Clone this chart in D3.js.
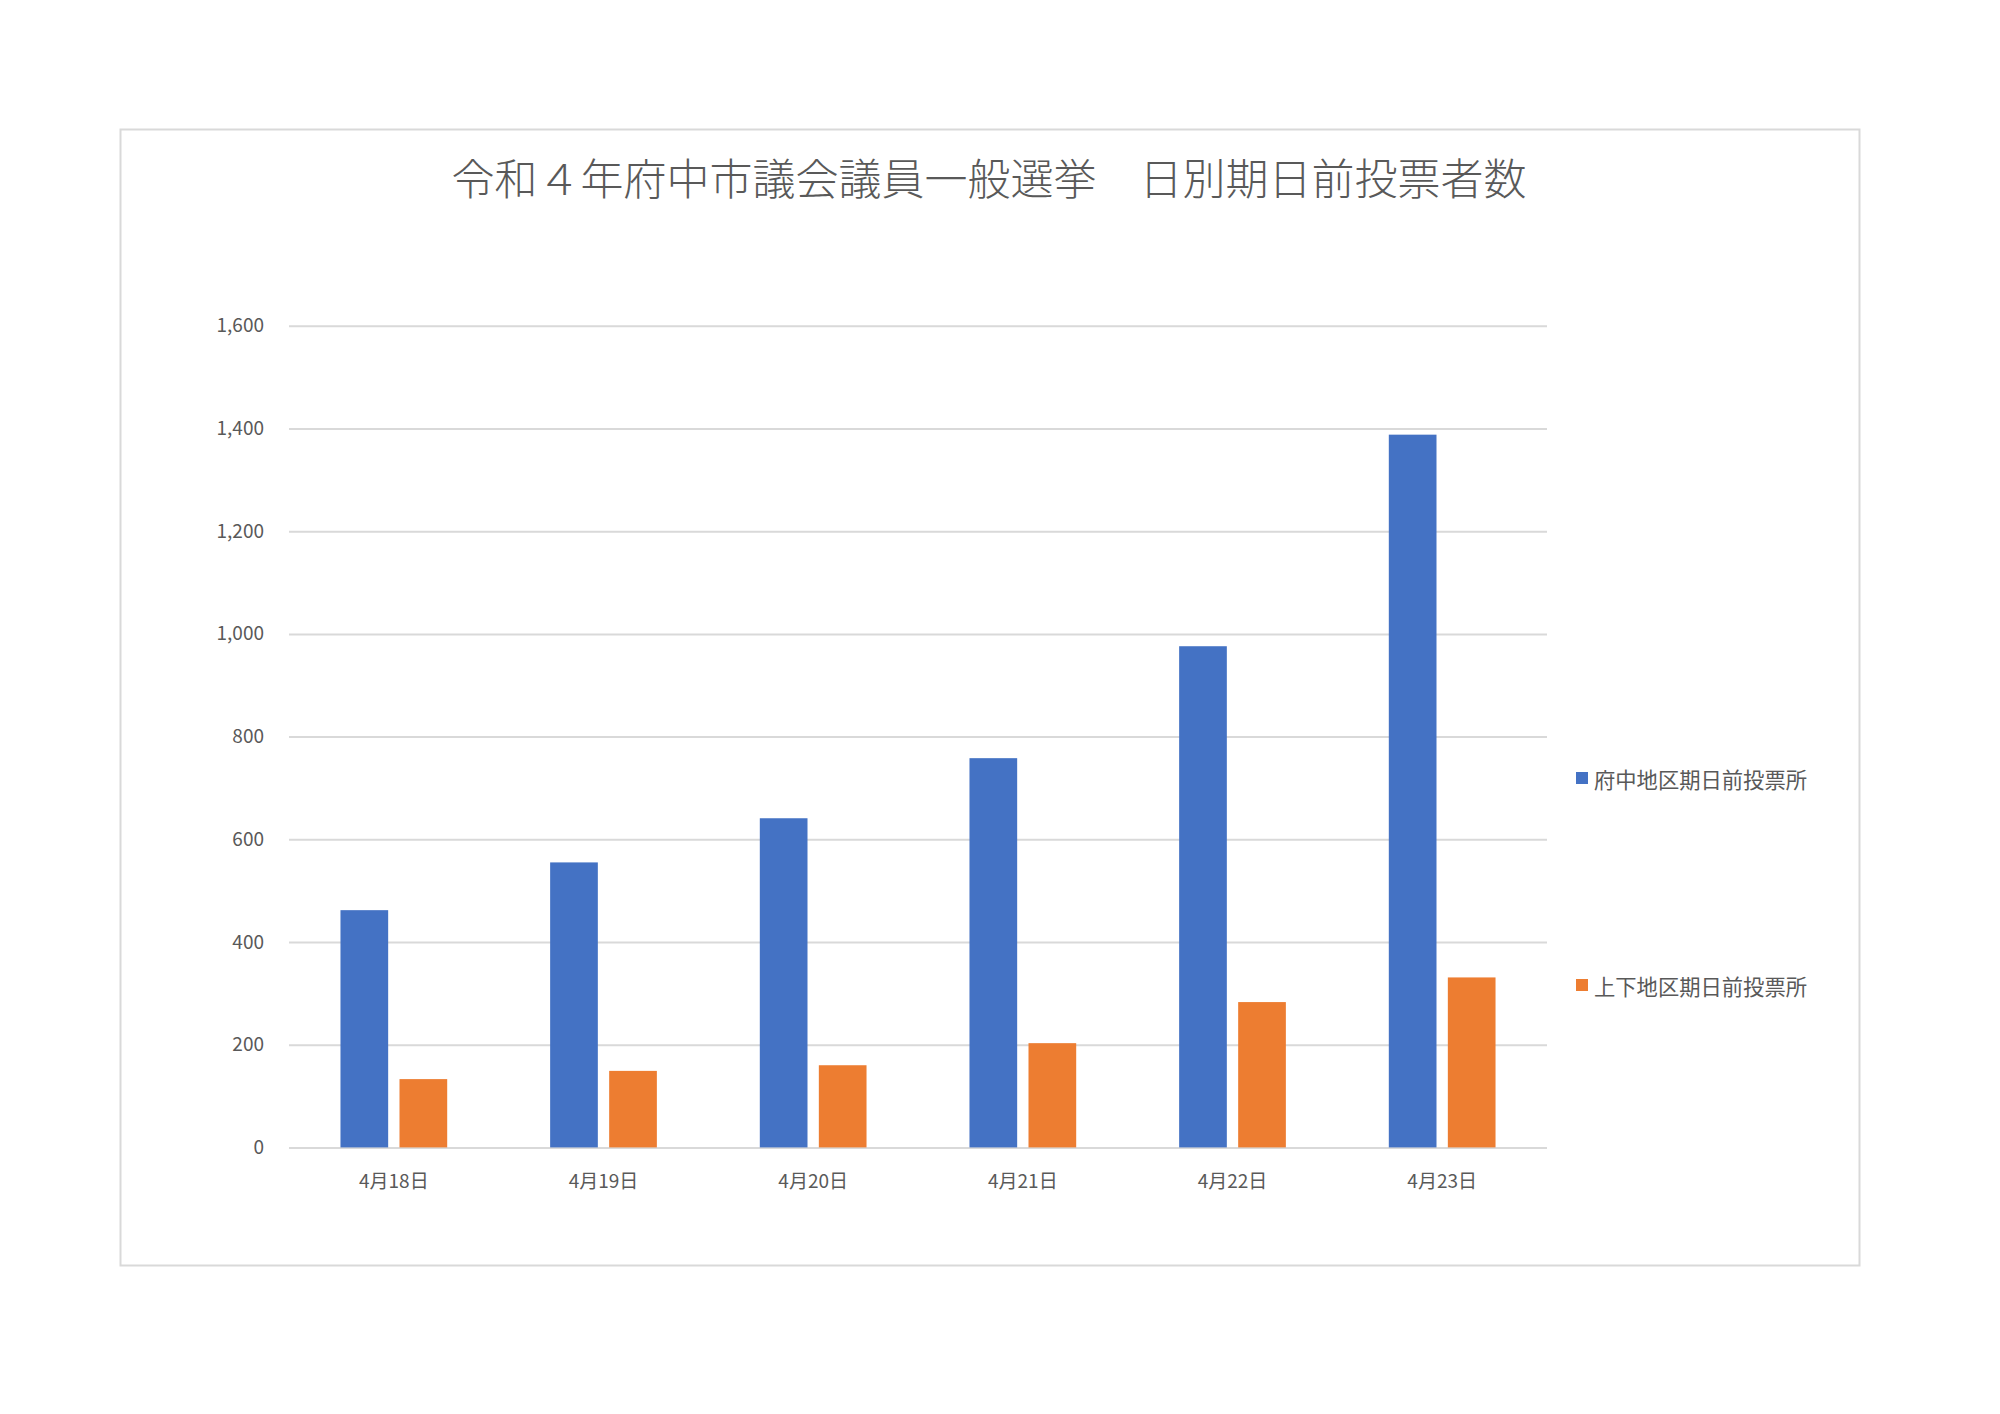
<!DOCTYPE html>
<html><head><meta charset="utf-8">
<script src="https://cdn.jsdelivr.net/npm/d3@7"></script>
<style>
html,body{margin:0;padding:0;background:#fff;}
svg{display:block;}
text{font-family:"Noto Sans CJK JP","Noto Sans",sans-serif;}
</style></head>
<body>
<svg id="chart" width="2000" height="1414"></svg>
<script>
const title = "令和４年府中市議会議員一般選挙　日別期日前投票者数";
const categories = ["4月18日","4月19日","4月20日","4月21日","4月22日","4月23日"];
const seriesNames = ["府中地区期日前投票所","上下地区期日前投票所"];
const fuchuValues = [462, 555, 641, 758, 976, 1388];
const joge = [133, 149, 160, 203, 283, 331];
const yTicks = [0,200,400,600,800,1000,1200,1400,1600];
const colors = ["#4472C4","#ED7D31"];

const svg = d3.select("#chart");
svg.append("rect").attr("width",2000).attr("height",1414).attr("fill","#fff");
// chart border
svg.append("rect").attr("x",120.5).attr("y",129.5).attr("width",1739).attr("height",1136)
  .attr("fill","#fff").attr("stroke","#d9d9d9").attr("stroke-width",2);

svg.append("text").attr("x",989).attr("y",176).attr("text-anchor","middle")
  .attr("dominant-baseline","central").attr("font-size",43).attr("font-weight",300)
  .attr("fill","#595959").text(title);

const plot = {left:289, right:1547, top:325.8, bottom:1147.4};
const y = d3.scaleLinear().domain([0,1600]).range([plot.bottom, plot.top]);
const x0 = d3.scaleBand().domain(categories).range([plot.left, plot.right])
  .paddingInner(0.491).paddingOuter(0.2455);
const x1 = d3.scaleBand().domain(seriesNames).range([0, x0.bandwidth()]).paddingInner(0.192).paddingOuter(0);

// gridlines via axis
const yAxis = d3.axisLeft(y).tickValues(yTicks).tickSize(-(plot.right-plot.left)).tickPadding(25)
  .tickFormat(d3.format(","));
const gy = svg.append("g").attr("transform",`translate(${plot.left},0)`).call(yAxis);
gy.select(".domain").remove();
gy.selectAll(".tick line").attr("stroke","#d9d9d9").attr("stroke-width",2);
gy.selectAll(".tick text").attr("font-size",19).attr("fill","#595959")
  .attr("font-family","'Noto Sans CJK JP',sans-serif");

const data = categories.map((c,i)=>({cat:c, vals:[fuchuValues[i], joge[i]]}));
const groups = svg.append("g").selectAll("g").data(data).join("g")
  .attr("transform",d=>`translate(${x0(d.cat)},0)`);
groups.selectAll("rect").data(d=>d.vals.map((v,j)=>({name:seriesNames[j], v, j})))
  .join("rect")
  .attr("x",d=>x1(d.name)).attr("width",x1.bandwidth())
  .attr("y",d=>y(d.v)).attr("height",d=>y(0)-y(d.v))
  .attr("fill",d=>colors[d.j]);

// x axis labels
const xAxis = d3.axisBottom(x0).tickSize(0).tickPadding(27);
const gx = svg.append("g").attr("transform",`translate(0,${plot.bottom})`).call(xAxis);
gx.select(".domain").remove();
gx.selectAll(".tick text").attr("font-size",19).attr("fill","#595959")
  .attr("font-family","'Noto Sans CJK JP',sans-serif");

// legend
const legendY = [778, 985];
const lg = svg.append("g").selectAll("g").data(seriesNames).join("g")
  .attr("transform",(d,i)=>`translate(1576,${legendY[i]})`);
lg.append("rect").attr("x",0).attr("y",-6).attr("width",12).attr("height",12).attr("fill",(d,i)=>colors[i]);
lg.append("text").attr("x",18).attr("y",0).attr("dominant-baseline","central")
  .attr("font-size",21.3).attr("fill","#595959").text(d=>d);
</script>
</body></html>
